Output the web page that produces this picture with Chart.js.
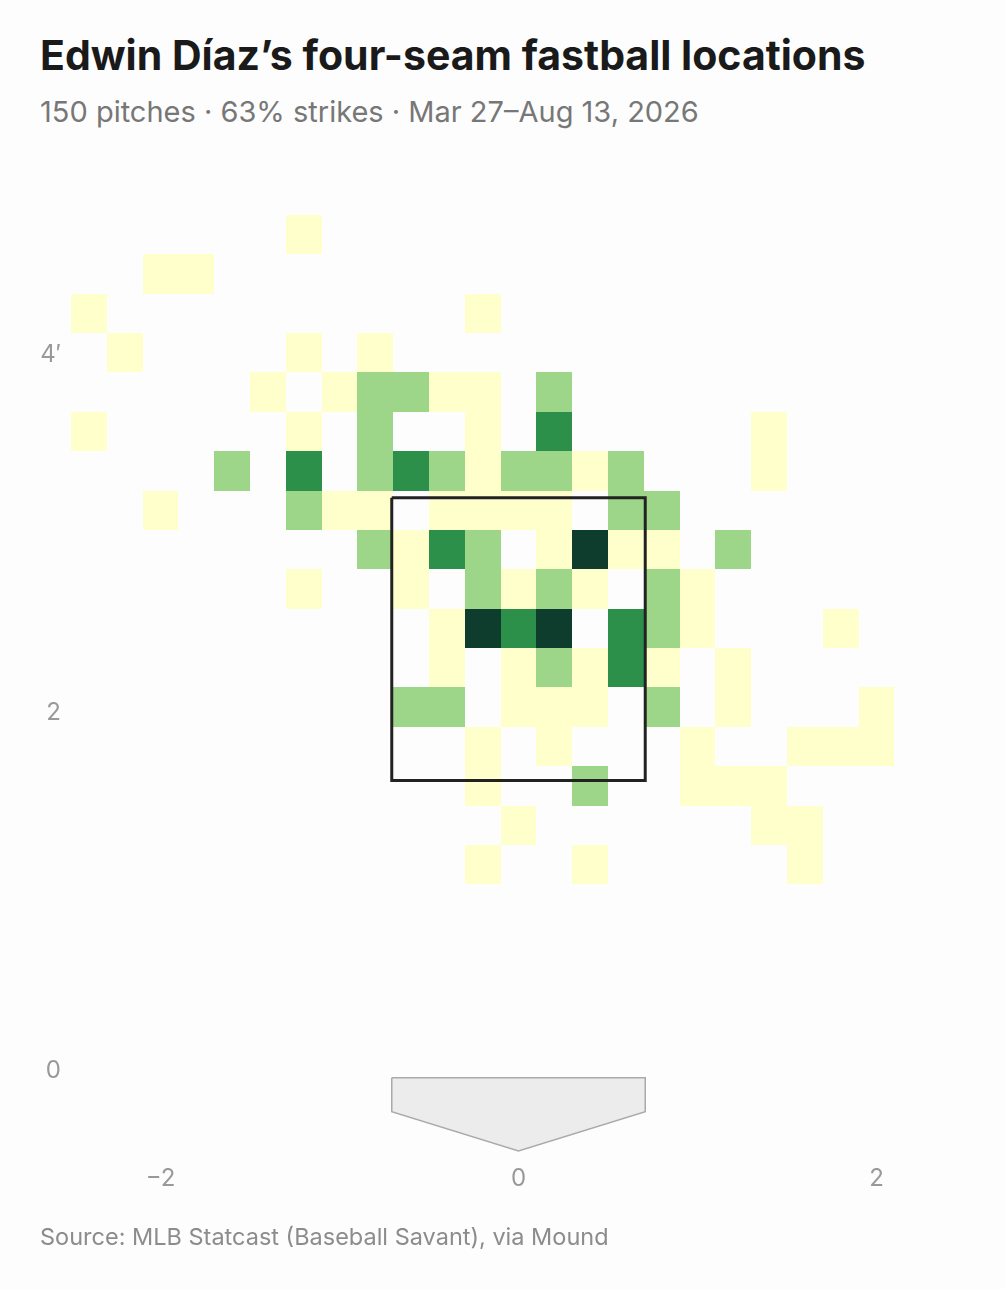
<!DOCTYPE html>
<html>
<head>
<meta charset="utf-8">
<script src="https://cdn.jsdelivr.net/npm/chart.js@4.4.1/dist/chart.umd.min.js"></script>
<style>
  html, body { margin: 0; padding: 0; background: #fdfdfd; }
  body { width: 1005px; height: 1289px; position: relative; overflow: hidden; font-family: Inter, 'Noto Sans', sans-serif; }
  #pitch-chart { position: absolute; left: 0; top: 0; }
  .title { position: absolute; left: 40px; top: 35px; font-size: 41px; line-height: 41px; font-weight: 700; color: #1a1a1a; white-space: nowrap; }
  .subtitle { position: absolute; left: 40px; top: 97px; font-size: 29px; line-height: 29px; color: #777; white-space: nowrap; }
  .source { position: absolute; left: 40px; top: 1225px; font-size: 23.5px; line-height: 23.5px; color: #8c8c8c; white-space: nowrap; }
</style>
</head>
<body>
<div class="title">Edwin Díaz’s four-seam fastball locations</div>
<div class="subtitle">150 pitches · 63% strikes · Mar 27–Aug 13, 2026</div>
<canvas id="pitch-chart" width="1005" height="1289"></canvas>
<div class="source">Source: MLB Statcast (Baseball Savant), via Mound</div>

<script>
// bin centers (feet), horizontal from catcher's view, vertical top row first
const xBins = [-2.4, -2.2, -2.0, -1.8, -1.6, -1.4, -1.2, -1.0, -0.8, -0.6, -0.4, -0.2, 0,
  0.2, 0.4, 0.6, 0.8, 1.0, 1.2, 1.4, 1.6, 1.8, 2.0, 2.2, 2.4];
const yBins = [4.67, 4.45, 4.23, 4.01, 3.79, 3.57, 3.35, 3.13, 2.91, 2.69, 2.47, 2.25, 2.03,
  1.81, 1.59, 1.37, 1.15];

// pitch counts per bin, one row per yBins entry
const counts = [
  [0,0,0,0,0,0,1,0,0,0,0,0,0,0,0,0,0,0,0,0,0,0,0,0,0],
  [0,0,1,1,0,0,0,0,0,0,0,0,0,0,0,0,0,0,0,0,0,0,0,0,0],
  [1,0,0,0,0,0,0,0,0,0,0,1,0,0,0,0,0,0,0,0,0,0,0,0,0],
  [0,1,0,0,0,0,1,0,1,0,0,0,0,0,0,0,0,0,0,0,0,0,0,0,0],
  [0,0,0,0,0,1,0,1,2,2,1,1,0,2,0,0,0,0,0,0,0,0,0,0,0],
  [1,0,0,0,0,0,1,0,2,0,0,1,0,3,0,0,0,0,0,1,0,0,0,0,0],
  [0,0,0,0,2,0,3,0,2,3,2,1,2,2,1,2,0,0,0,1,0,0,0,0,0],
  [0,0,1,0,0,0,2,1,1,0,1,1,1,1,0,2,2,0,0,0,0,0,0,0,0],
  [0,0,0,0,0,0,0,0,2,1,3,2,0,1,5,1,1,0,2,0,0,0,0,0,0],
  [0,0,0,0,0,0,1,0,0,1,0,2,1,2,1,0,2,1,0,0,0,0,0,0,0],
  [0,0,0,0,0,0,0,0,0,0,1,5,3,5,0,3,2,1,0,0,0,1,0,0,0],
  [0,0,0,0,0,0,0,0,0,0,1,0,1,2,1,3,1,0,1,0,0,0,0,0,0],
  [0,0,0,0,0,0,0,0,0,2,2,0,1,1,1,0,2,0,1,0,0,0,1,0,0],
  [0,0,0,0,0,0,0,0,0,0,0,1,0,1,0,0,0,1,0,0,1,1,1,0,0],
  [0,0,0,0,0,0,0,0,0,0,0,1,0,0,2,0,0,1,1,1,0,0,0,0,0],
  [0,0,0,0,0,0,0,0,0,0,0,0,1,0,0,0,0,0,0,1,1,0,0,0,0],
  [0,0,0,0,0,0,0,0,0,0,0,1,0,0,1,0,0,0,0,0,1,0,0,0,0]
];

const xTicks = [-2, 0, 2];
const yTicks = [0, 2, 4];

// strike zone and home plate outline, feet
const zoneX = [-0.708, 0.708, 0.708, -0.708, -0.708];
const zoneY = [3.2, 3.2, 1.62, 1.62, 3.2];
const plateX = [-0.708, 0.708, 0.708, 0, -0.708, -0.708];
const plateY = [-0.04, -0.04, -0.23, -0.45, -0.23, -0.04];

const CELL_W = 0.2;
const CELL_H = 0.22;

function cellColor(n) {
  if (n >= 5) return '#0f3d2d';
  if (n >= 3) return '#2c8f4a';
  if (n === 2) return '#9ed689';
  return '#ffffcc';
}

function fmtTick(v) {
  return v < 0 ? '\u2212' + Math.abs(v) : String(v);
}

const cells = [];
counts.forEach((row, r) => {
  row.forEach((n, c) => {
    if (n > 0) cells.push({ x: xBins[c], y: yBins[r], v: n });
  });
});

// paints each bin as a rectangle using the chart's scales
const heatCells = {
  id: 'heatCells',
  beforeDatasetsDraw(chart) {
    const ctx = chart.ctx;
    const xs = chart.scales.x;
    const ys = chart.scales.y;
    ctx.save();
    chart.data.datasets[2].data.forEach(p => {
      const left = Math.round(xs.getPixelForValue(p.x - CELL_W / 2));
      const right = Math.round(xs.getPixelForValue(p.x + CELL_W / 2));
      const top = Math.round(ys.getPixelForValue(p.y + CELL_H / 2));
      const bottom = Math.round(ys.getPixelForValue(p.y - CELL_H / 2));
      ctx.fillStyle = cellColor(p.v);
      ctx.fillRect(left, top, right - left, bottom - top);
    });
    ctx.restore();
  }
};

const tickFont = { family: 'Inter', size: 24 };

new Chart(document.getElementById('pitch-chart'), {
  type: 'scatter',
  data: {
    datasets: [
      {
        label: 'zone',
        data: zoneX.map((x, i) => ({ x: x, y: zoneY[i] })),
        showLine: true,
        borderColor: '#222',
        borderWidth: 3,
        borderJoinStyle: 'miter',
        pointRadius: 0,
        fill: false,
        order: 0
      },
      {
        label: 'plate',
        data: plateX.map((x, i) => ({ x: x, y: plateY[i] })),
        showLine: true,
        borderColor: '#aaa',
        borderWidth: 1.5,
        backgroundColor: '#ececec',
        pointRadius: 0,
        fill: 'shape',
        order: 1
      },
      {
        label: 'pitches',
        data: cells,
        pointRadius: 0,
        order: 2
      }
    ]
  },
  options: {
    responsive: false,
    animation: false,
    events: [],
    layout: { padding: { left: 0, right: 39, top: 175.5, bottom: 89 } },
    plugins: {
      legend: { display: false },
      tooltip: { enabled: false }
    },
    scales: {
      x: {
        type: 'linear',
        min: -2.5,
        max: 2.5,
        grid: { display: false, drawTicks: false },
        border: { display: false },
        ticks: { padding: 4, color: '#999', font: tickFont, callback: v => fmtTick(v) },
        afterBuildTicks: s => { s.ticks = xTicks.map(v => ({ value: v })); },
        afterFit: s => { s.height = 40; }
      },
      y: {
        type: 'linear',
        min: -0.5,
        max: 5.0,
        grid: { display: false, drawTicks: false },
        border: { display: false },
        ticks: {
          padding: 10,
          color: '#999',
          font: tickFont,
          callback: v => v === yTicks[yTicks.length - 1] ? v + '′' : fmtTick(v)
        },
        afterBuildTicks: s => { s.ticks = yTicks.map(v => ({ value: v })); },
        afterFit: s => { s.width = 71; }
      }
    }
  },
  plugins: [heatCells]
});
</script>
</body>
</html>
